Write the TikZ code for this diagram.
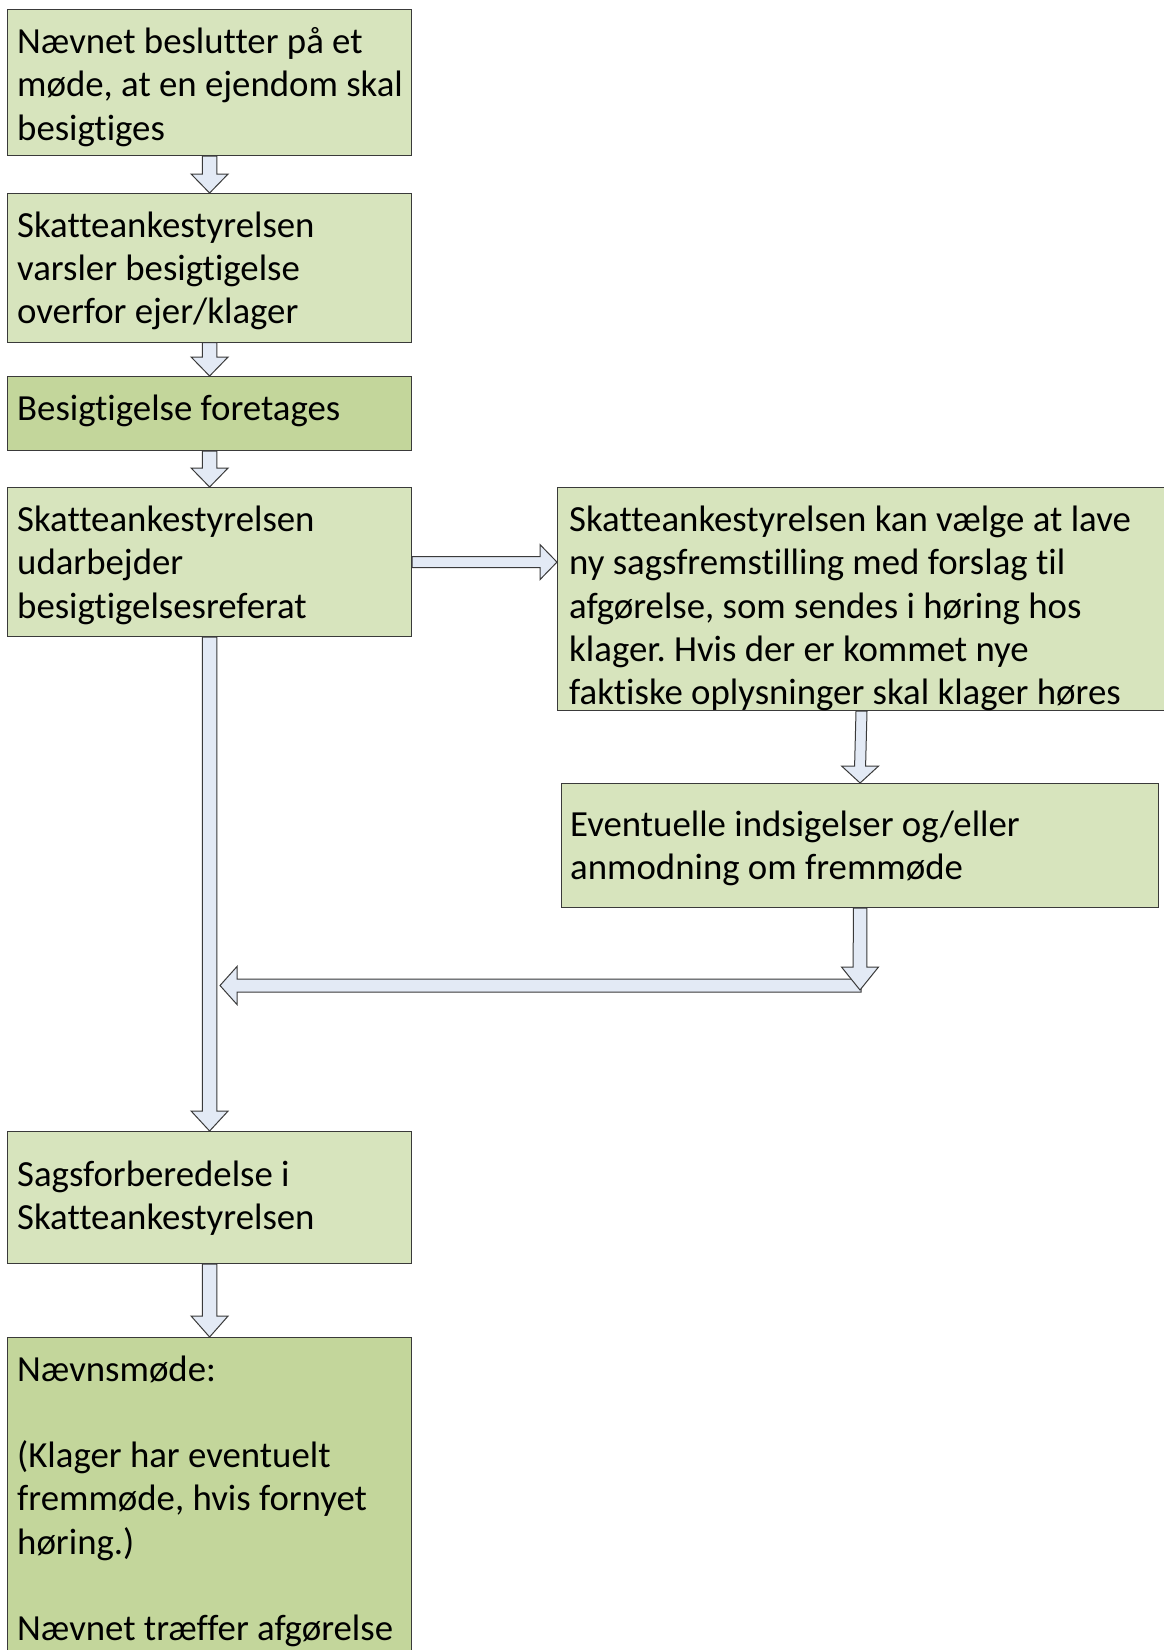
\documentclass[tikz,border=0pt]{standalone}
\usepackage{fontspec}
\setmainfont{Carlito}[Ligatures=NoCommon]
\usetikzlibrary{calc}
\frenchspacing
\definecolor{boxlight}{HTML}{D7E4BD}
\definecolor{boxdark}{HTML}{C3D69B}
\definecolor{arrfill}{HTML}{E3EAF5}
\definecolor{edgecol}{HTML}{3A3A3A}
% vertical block arrow: from, tip, shaft half width, head half width, head length
\newcommand{\vblock}[5]{%
  \draw[barrow] ($(#1)+(-#3,0)$) -- ($(#1)+(#3,0)$) -- ($(#2)+(#3,-#5)$) -- ($(#2)+(#4,-#5)$) -- (#2)
    -- ($(#2)+(-#4,-#5)$) -- ($(#2)+(-#3,-#5)$) -- cycle;}
% horizontal block arrow: from, tip, shaft half width, head half width, signed head length
\newcommand{\hblock}[5]{%
  \draw[barrow] ($(#1)+(0,-#3)$) -- ($(#2)+(#5,-#3)$) -- ($(#2)+(#5,-#4)$) -- (#2)
    -- ($(#2)+(#5,#4)$) -- ($(#2)+(#5,#3)$) -- ($(#1)+(0,#3)$) -- cycle;}
\begin{document}
\begin{tikzpicture}[x=1pt,y=-1pt,
  box/.style={draw=edgecol, line width=1.2pt, fill=boxlight, rectangle, inner sep=0pt, anchor=north west},
  darkbox/.style={box, fill=boxdark},
  txt/.style={anchor=base west, inner sep=0pt, align=flush left, text width=1000pt,
    font=\fontsize{36.8}{43.3}\selectfont\frenchspacing,
    execute at begin node={\spaceskip=0pt\xspaceskip=0pt\relax}},
  barrow/.style={draw=edgecol, line width=1pt, fill=arrfill, line join=miter}
]
\useasboundingbox (0,0) rectangle (1163,1650);
\fill[white] (0,0) rectangle (1163,1650);

% boxes
\node[box, minimum width=404, minimum height=146] (b1) at (7,9) {};
\node[box, minimum width=404, minimum height=148.5] (b2) at (7,193) {};
\node[darkbox, minimum width=404, minimum height=74] (b3) at (7,376) {};
\node[box, minimum width=404, minimum height=149] (b4) at (7,487) {};
\node[box, minimum width=620, minimum height=223] (b5) at (557,487) {};
\node[box, minimum width=597, minimum height=124] (b6) at (561,783) {};
\node[box, minimum width=404, minimum height=132] (b7) at (7,1131) {};
\node[darkbox, minimum width=404, minimum height=380] (b8) at (7,1337) {};

% texts
\node[txt] (t1) at (17,53.5) {Nævnet beslutter på et\\møde, at en ejendom skal\\besigtiges};
\node[txt] (t2) at (17,237) {Skatteankestyrelsen\\varsler besigtigelse\\overfor ejer/klager};
\node[txt] (t3) at (17,420) {Besigtigelse foretages};
\node[txt] (t4) at (17,531.5) {Skatteankestyrelsen\\udarbejder\\besigtigelsesreferat};
\node[txt] (t5) at (569,531.5) {Skatteankestyrelsen kan vælge at lave\\ny sagsfremstilling med forslag til\\afgørelse, som sendes i høring hos\\klager. Hvis der er kommet nye\\faktiske oplysninger skal klager høres};
\node[txt] (t6) at (570,836) {Eventuelle indsigelser og/eller\\anmodning om fremmøde};
\node[txt] (t7) at (17,1186) {Sagsforberedelse i\\Skatteankestyrelsen};
\node[txt] (t8) at (17,1381) {Nævnsmøde:\\\mbox{}\\(Klager har eventuelt\\fremmøde, hvis fornyet\\høring.)\\\mbox{}\\Nævnet træffer afgørelse};

% helper coordinates
\coordinate (p45) at (b4.east -| b5.west);
\coordinate (s5) at ($(b5.south west)+(304.5,0)$);
\coordinate (j6) at (860,990);
\coordinate (jh) at (861,985.5);
\coordinate (merge) at (220,985.5);

% arrows
\vblock{b1.south}{b2.north}{7.3}{18.5}{19}
\vblock{b2.south}{b3.north}{7.3}{18.5}{19}
\vblock{b3.south}{b4.north}{7.3}{18.5}{19}
\hblock{b4.east}{p45}{5.5}{17.5}{-17}
\vblock{s5}{b6.north}{5.5}{18.5}{17}
\vblock{b4.south}{b7.north}{7.3}{18.5}{20}
\hblock{jh}{merge}{6.5}{19}{17}
\vblock{b6.south}{j6}{6.8}{18.5}{23}
\vblock{b7.south}{b8.north}{7.3}{18.5}{21}
\end{tikzpicture}
\end{document}
